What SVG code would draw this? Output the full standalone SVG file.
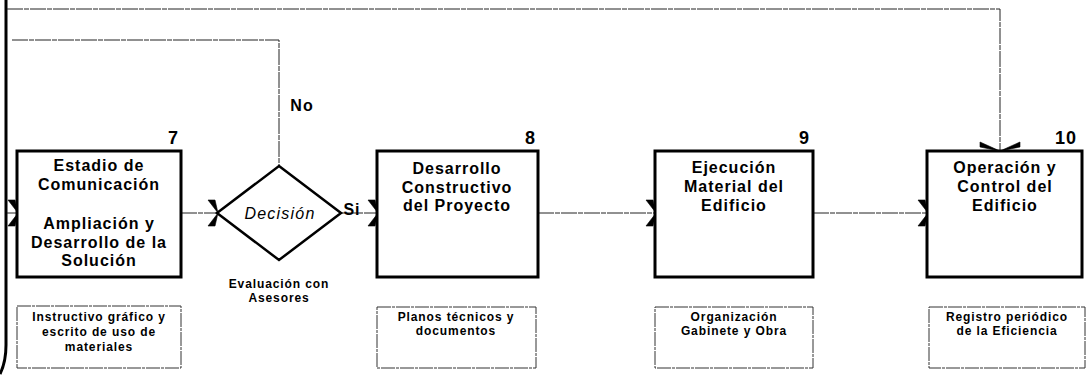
<svg xmlns="http://www.w3.org/2000/svg" width="1088" height="377" viewBox="0 0 1088 377">
<defs>
<style>
.box{fill:#fff;stroke:#000;stroke-width:3}
.sub{fill:#fff;stroke:#333;stroke-width:1;stroke-dasharray:14 1 3 1}
.ln{fill:none;stroke:#222;stroke-width:1;stroke-dasharray:16 1 5 1}
.t{font-family:"Liberation Sans",Arial,sans-serif;font-weight:bold;font-size:16px;letter-spacing:1px;text-anchor:middle;fill:#000}
.s{font-family:"Liberation Sans",Arial,sans-serif;font-weight:bold;font-size:12px;letter-spacing:0.9px;text-anchor:middle;fill:#000}
.n{font-family:"Liberation Sans",Arial,sans-serif;font-weight:bold;font-size:18px;letter-spacing:1px;text-anchor:end;fill:#000}
</style>
<marker id="ah" viewBox="-12 -14 14 28" markerWidth="14" markerHeight="28" refX="0" refY="0" orient="auto" markerUnits="userSpaceOnUse">
<path d="M1,0 L-9,-13 L-2,-13 Z M1,0 L-9,13 L-2,13 Z" fill="#000" stroke="#000" stroke-width="0.6"/>
</marker>
<marker id="ahw" viewBox="-12 -22 14 44" markerWidth="14" markerHeight="44" refX="0" refY="0" orient="auto" markerUnits="userSpaceOnUse">
<path d="M1,0 L-8,-20 L-3,-20 Z M1,0 L-8,20 L-3,20 Z" fill="#000" stroke="#000" stroke-width="0.6"/>
</marker>
</defs>
<g id="connectors">
<path d="M6,0 L6,345 Q6,362 0,374" fill="none" stroke="#000" stroke-width="3"/>
<path class="ln" d="M7,9 L1000,9 L1000,150" marker-end="url(#ahw)"/>
<path class="ln" d="M12,40 L279,40 L279,166"/>
<path class="ln" d="M7,213 L17,213" marker-end="url(#ah)"/>
<path class="ln" d="M181,213 L217,213" marker-end="url(#ah)"/>
<path class="ln" d="M341,213 L377,213" marker-end="url(#ah)"/>
<path class="ln" d="M538,213 L655,213" marker-end="url(#ah)"/>
<path class="ln" d="M813,213 L927,213" marker-end="url(#ah)"/>
<text class="t" x="302" y="111">No</text>
<text class="t" x="352" y="215">Si</text>
</g>
<g id="n7">
<rect class="box" x="17" y="151" width="164" height="126"/>
<text class="n" x="179" y="144">7</text>
<text class="t" x="99" y="171">Estadio de</text>
<text class="t" x="99" y="190">Comunicación</text>
<text class="t" x="99" y="229">Ampliación y</text>
<text class="t" x="99" y="248">Desarrollo de la</text>
<text class="t" x="99" y="266">Solución</text>
</g>
<g id="decision">
<polygon points="279,166 341,213 279,260 217,213" fill="#fff" stroke="#000" stroke-width="2.5"/>
<text class="t" x="280" y="219" font-style="italic" style="font-weight:normal;letter-spacing:1.2px">Decisión</text>
<text class="s" x="279" y="288">Evaluación con</text>
<text class="s" x="279" y="302">Asesores</text>
</g>
<g id="n8">
<rect class="box" x="377" y="151" width="161" height="126"/>
<text class="n" x="536" y="144">8</text>
<text class="t" x="457" y="174">Desarrollo</text>
<text class="t" x="457" y="193">Constructivo</text>
<text class="t" x="457" y="211">del Proyecto</text>
</g>
<g id="n9">
<rect class="box" x="655" y="151" width="158" height="126"/>
<text class="n" x="810" y="144">9</text>
<text class="t" x="734" y="173">Ejecución</text>
<text class="t" x="734" y="192">Material del</text>
<text class="t" x="734" y="211">Edificio</text>
</g>
<g id="n10">
<rect class="box" x="927" y="151" width="155" height="126"/>
<text class="n" x="1077" y="144">10</text>
<text class="t" x="1005" y="173">Operación y</text>
<text class="t" x="1005" y="192">Control del</text>
<text class="t" x="1005" y="211">Edificio</text>
</g>
<g id="s7">
<rect class="sub" x="17" y="306" width="164" height="62"/>
<text class="s" x="99" y="321">Instructivo gráfico y</text>
<text class="s" x="99" y="336">escrito de uso de</text>
<text class="s" x="99" y="351">materiales</text>
</g>
<g id="s8">
<rect class="sub" x="377" y="307" width="159" height="61"/>
<text class="s" x="456" y="321">Planos técnicos y</text>
<text class="s" x="456" y="335">documentos</text>
</g>
<g id="s9">
<rect class="sub" x="655" y="307" width="158" height="61"/>
<text class="s" x="734" y="321">Organización</text>
<text class="s" x="734" y="335">Gabinete y Obra</text>
</g>
<g id="s10">
<rect class="sub" x="929" y="307" width="156" height="61"/>
<text class="s" x="1007" y="321">Registro periódico</text>
<text class="s" x="1007" y="335">de la Eficiencia</text>
</g>
</svg>
